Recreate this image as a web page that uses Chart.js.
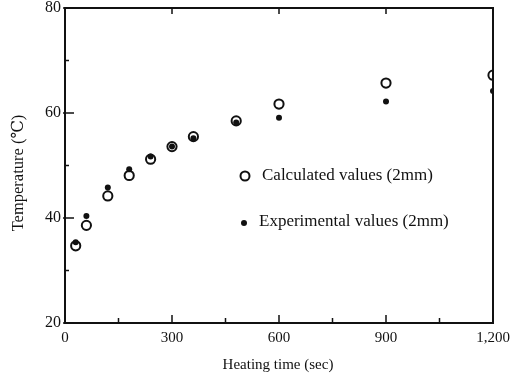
<!DOCTYPE html>
<html>
<head>
<meta charset="utf-8">
<script src="https://cdn.jsdelivr.net/npm/chart.js@4/dist/chart.umd.min.js"></script>
<style>
html,body{margin:0;padding:0;background:#fff;}
#wrap{width:514px;height:374px;position:relative;}
</style>
</head>
<body>
<div id="wrap"><canvas id="c" width="514" height="374"></canvas></div>
<script>
const heatingTimes = [30, 60, 120, 180, 240, 300, 360, 480, 600, 900, 1200];
const calculatedValues = [34.7, 38.6, 44.2, 48.1, 51.2, 53.6, 55.5, 58.5, 61.7, 65.7, 67.2];
const experimentalValues = [35.4, 40.4, 45.8, 49.3, 51.7, 53.6, 55.2, 58.2, 59.1, 62.2, 64.2];
const xTickLabels = ['0', '300', '600', '900', '1,200'];
const xMajorTicks = [0, 300, 600, 900, 1200];
const xMinorTicks = [150, 450, 750, 1050];
const yMajorTicks = [20, 40, 60, 80];
const yMinorTicks = [30, 50, 70];
const seriesNames = ['Calculated values (2mm)', 'Experimental values (2mm)'];
const xTitle = 'Heating time (sec)';
const yTitle = 'Temperature (\u2103)';

const FONT = '"Liberation Serif", "DejaVu Serif", serif';
const INK = '#111';

const framePlugin = {
  id: 'frame',
  afterDraw(chart) {
    const ctx = chart.ctx;
    const a = chart.chartArea;
    const xs = chart.scales.x, ys = chart.scales.y;
    ctx.save();
    ctx.strokeStyle = INK;
    ctx.lineWidth = 2;
    ctx.strokeRect(a.left, a.top, a.right - a.left, a.bottom - a.top);
    ctx.lineWidth = 1.5;
    ctx.beginPath();
    xMajorTicks.forEach(v => {
      const px = xs.getPixelForValue(v);
      ctx.moveTo(px, a.bottom); ctx.lineTo(px, a.bottom - 8);
      ctx.moveTo(px, a.top); ctx.lineTo(px, a.top + 6);
    });
    xMinorTicks.forEach(v => {
      const px = xs.getPixelForValue(v);
      ctx.moveTo(px, a.bottom); ctx.lineTo(px, a.bottom - 5);
    });
    yMajorTicks.forEach(v => {
      const py = ys.getPixelForValue(v);
      ctx.moveTo(a.left - 2, py); ctx.lineTo(a.left + 9, py);
    });
    yMinorTicks.forEach(v => {
      const py = ys.getPixelForValue(v);
      ctx.moveTo(a.left, py); ctx.lineTo(a.left + 4, py);
    });
    ctx.stroke();

    // axis titles
    ctx.fillStyle = INK;
    ctx.textAlign = 'center';
    ctx.textBaseline = 'middle';
    ctx.font = '15px ' + FONT;
    ctx.fillText(xTitle, 278, 365);
    ctx.save();
    ctx.translate(19, 173);
    ctx.rotate(-Math.PI / 2);
    ctx.font = '16.5px ' + FONT;
    ctx.fillText(yTitle, 0, 0);
    ctx.restore();

    // legend inside plot
    const ds = chart.data.datasets;
    ctx.textAlign = 'left';
    ctx.font = '17px ' + FONT;
    ctx.beginPath();
    ctx.lineWidth = 2;
    ctx.arc(245, 176, 4.5, 0, Math.PI * 2);
    ctx.stroke();
    ctx.fillText(ds[0].label, 262, 176);
    ctx.beginPath();
    ctx.arc(244, 223, 3, 0, Math.PI * 2);
    ctx.fill();
    ctx.fillText(ds[1].label, 259, 222);
    ctx.restore();
  }
};

new Chart(document.getElementById('c'), {
  type: 'scatter',
  data: {
    datasets: [
      {
        label: seriesNames[0],
        data: heatingTimes.map((t, i) => ({x: t, y: calculatedValues[i]})),
        pointStyle: 'circle',
        pointRadius: 4.6,
        pointBorderWidth: 2,
        borderColor: INK,
        backgroundColor: 'rgba(255,255,255,0)',
        order: 1
      },
      {
        label: seriesNames[1],
        data: heatingTimes.map((t, i) => ({x: t, y: experimentalValues[i]})),
        pointStyle: 'circle',
        pointRadius: 3,
        pointBorderWidth: 0,
        borderColor: INK,
        backgroundColor: INK,
        order: 0
      }
    ]
  },
  options: {
    responsive: false,
    animation: false,
    events: [],
    layout: {padding: {left: 0, right: 21, top: 8, bottom: 0}},
    plugins: {legend: {display: false}, tooltip: {enabled: false}},
    scales: {
      x: {
        type: 'linear',
        min: 0, max: 1200,
        afterBuildTicks(s) { s.ticks = xMajorTicks.map(v => ({value: v})); },
        afterFit(s) { s.height = 51; s.paddingLeft = 0; s.paddingRight = 0; },
        grid: {display: false, drawTicks: false},
        border: {display: false},
        ticks: {
          padding: 6,
          color: INK,
          font: {family: FONT, size: 15},
          maxRotation: 0,
          autoSkip: false,
          callback: (v) => xTickLabels[xMajorTicks.indexOf(v)]
        }
      },
      y: {
        type: 'linear',
        min: 20, max: 80,
        afterBuildTicks(s) { s.ticks = yMajorTicks.map(v => ({value: v})); },
        afterFit(s) { s.width = 65; s.paddingTop = 0; s.paddingBottom = 0; },
        grid: {display: false, drawTicks: false},
        border: {display: false},
        ticks: {
          padding: 4,
          color: INK,
          font: {family: FONT, size: 16},
          callback: (v) => String(v)
        }
      }
    }
  },
  plugins: [framePlugin]
});
</script>
</body>
</html>
